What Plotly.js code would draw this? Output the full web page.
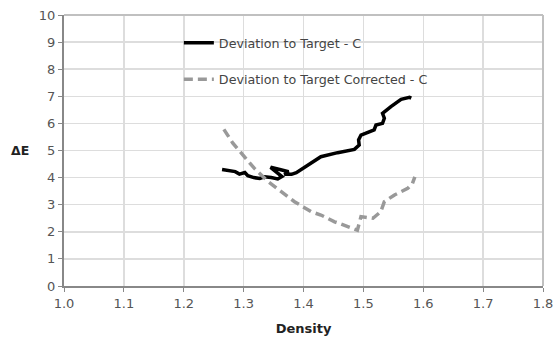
<!DOCTYPE html>
<html>
<head>
<meta charset="utf-8">
<script src="https://cdn.plot.ly/plotly-3.0.1.min.js"></script>
<style>html,body{margin:0;padding:0;background:#fff;}#chart{width:556px;height:337px;}</style>
</head>
<body>
<div id="chart"></div>
<script>
const seriesNames = ["Deviation to Target - C", "Deviation to Target Corrected - C"];
const densityC = [1.264,1.279,1.286,1.293,1.302,1.307,1.317,1.327,1.335,1.346,1.357,1.364,1.345,1.362,1.375,1.368,1.380,1.388,1.395,1.407,1.429,1.457,1.485,1.493,1.492,1.496,1.507,1.518,1.521,1.532,1.535,1.532,1.546,1.563,1.577,1.580];
const deltaEC = [4.30,4.24,4.22,4.13,4.19,4.07,4.00,3.97,4.03,4.00,3.95,4.04,4.38,4.29,4.22,4.12,4.12,4.18,4.28,4.46,4.77,4.92,5.04,5.20,5.39,5.57,5.66,5.76,5.94,6.00,6.19,6.37,6.62,6.89,6.96,6.93];
const densityCorr = [1.267,1.282,1.299,1.318,1.341,1.363,1.385,1.413,1.429,1.452,1.474,1.490,1.493,1.496,1.516,1.529,1.535,1.552,1.574,1.582,1.586];
const deltaECorr = [5.78,5.27,4.83,4.34,3.85,3.48,3.11,2.74,2.62,2.37,2.21,2.06,2.31,2.56,2.50,2.74,3.11,3.36,3.60,3.79,4.03];
const xTicks = [1.0,1.1,1.2,1.3,1.4,1.5,1.6,1.7,1.8];
const yTicks = [0,1,2,3,4,5,6,7,8,9,10];

const font = "DejaVu Sans, Verdana, sans-serif";
const traces = [
  {x: densityC, y: deltaEC, name: seriesNames[0], type: "scatter", mode: "lines",
   line: {color: "#000000", width: 3.5}, legendgroup: "a"},
  {x: densityCorr, y: deltaECorr, name: seriesNames[1], type: "scatter", mode: "lines",
   line: {color: "#999999", width: 3.5, dash: "9px,5px"}, legendgroup: "b"}
];
const layout = {
  width: 556, height: 337,
  margin: {l: 64, r: 13, t: 15, b: 51},
  paper_bgcolor: "#ffffff", plot_bgcolor: "#ffffff",
  font: {family: font, size: 13, color: "#555555"},
  showlegend: true,
  legend: {x: 0.2398, y: 0.952, xanchor: "left", yanchor: "top", bgcolor: "rgba(0,0,0,0)",
           font: {family: font, size: 12.7, color: "#444444"}, tracegroupgap: 17},
  xaxis: {range: [1.0, 1.8], tickvals: xTicks, ticktext: xTicks.map(v => v.toFixed(1)),
          showgrid: true, gridcolor: "#dddddd", gridwidth: 1.5,
          showline: true, linecolor: "#888888", linewidth: 2,
          ticks: "outside", ticklen: 4, tickcolor: "#888888", tickwidth: 1,
          zeroline: false, fixedrange: true,
          title: {text: "<b>Density</b>", font: {family: font, size: 13, color: "#222222"}, standoff: 14}},
  yaxis: {range: [0, 10], tickvals: yTicks,
          showgrid: true, gridcolor: "#dddddd", gridwidth: 1.5,
          showline: true, linecolor: "#888888", linewidth: 2,
          ticks: "outside", ticklen: 4, tickcolor: "#888888", tickwidth: 1,
          zeroline: false, fixedrange: true},
  shapes: [
    {type: "rect", xref: "paper", yref: "paper", x0: 0.1633, x1: 0.84, y0: 0.699, y1: 0.963,
     fillcolor: "#ffffff", line: {width: 0}, layer: "between"},
    {type: "line", xref: "paper", yref: "paper", x0: 0, x1: 1, y0: 1, y1: 1, line: {color: "#c0c0c0", width: 2}},
    {type: "line", xref: "paper", yref: "paper", x0: 1, x1: 1, y0: 0, y1: 1, line: {color: "#c0c0c0", width: 2}}
  ],
  annotations: [
    {text: "<b>ΔE</b>", xref: "paper", yref: "paper", x: -0.068, y: 0.5, xanchor: "right", yanchor: "middle",
     showarrow: false, font: {family: font, size: 12.5, color: "#222222"}}
  ]
};
Plotly.newPlot("chart", traces, layout, {displayModeBar: false, staticPlot: true});
</script>
</body>
</html>
